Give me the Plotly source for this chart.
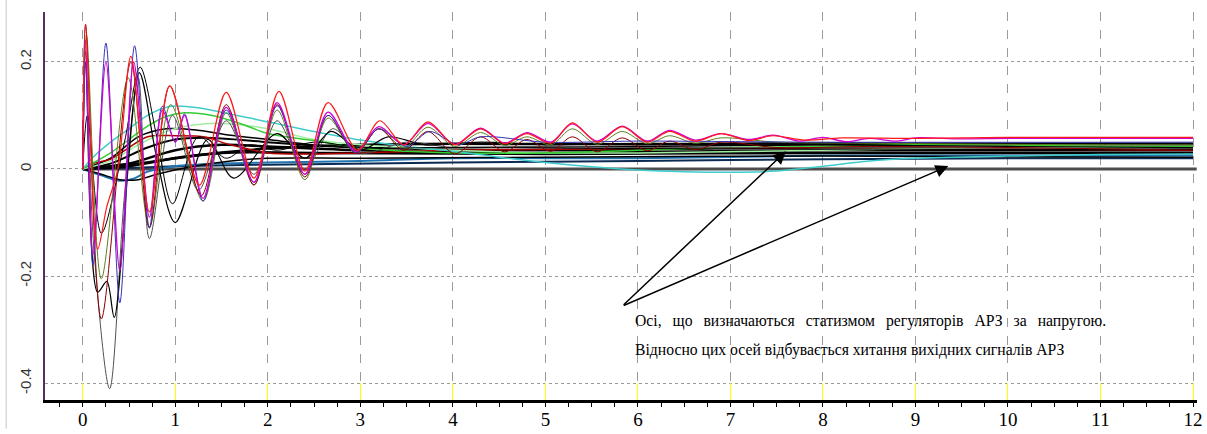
import plotly.graph_objects as go

# ---------------- data ----------------
zero_t = [0, 12.04]
zero_v = [0, 0]

navy_t = [0, 0.5, 1.0, 2.0, 4.0, 6.0, 8.0, 10.0, 12.0]
navy_v = [0, 0.002, 0.005, 0.008, 0.012, 0.015, 0.018, 0.02, 0.02]

steel_t = [0, 0.2, 0.4, 0.55, 0.7, 1.0, 1.5, 2.0, 3.0, 4.0, 6.0, 8.0, 10.0, 12.0]
steel_v = [0, -0.012, -0.022, -0.018, -0.005, 0.005, 0.01, 0.012, 0.015, 0.02, 0.02, 0.025, 0.025, 0.025]

bdip_t = [0, 0.2, 0.4, 0.6, 0.8, 1.2, 1.6, 2.0, 3.0, 5.0, 8.0, 12.0]
bdip_v = [0, -0.01, -0.02, -0.02, -0.01, 0.005, 0.015, 0.02, 0.02, 0.022, 0.024, 0.022]

bs1_t = [0, 0.3, 0.6, 0.9, 1.2, 1.6, 2.0, 2.5, 3.0, 4.0, 6.0, 8.0, 12.0]
bs1_v = [0, 0.02, 0.06, 0.075, 0.073, 0.063, 0.055, 0.045, 0.04, 0.04, 0.042, 0.045, 0.045]

bs2_t = [0, 0.3, 0.7, 1.0, 1.4, 2.0, 3.0, 5.0, 8.0, 12.0]
bs2_v = [0, 0.01, 0.04, 0.055, 0.058, 0.05, 0.04, 0.035, 0.04, 0.04]

bs3_t = [0, 0.5, 1.0, 1.5, 2.0, 3.0, 5.0, 8.0, 12.0]
bs3_v = [0, 0.01, 0.035, 0.045, 0.042, 0.035, 0.03, 0.035, 0.035]

bs4_t = [0, 0.5, 1.0, 1.5, 2.5, 5.0, 8.0, 12.0]
bs4_v = [0, 0.005, 0.02, 0.03, 0.03, 0.028, 0.03, 0.03]

bs5_t = [0, 0.6, 1.2, 2.0, 3.0, 4.0, 6.0, 8.0, 10.0, 12.0]
bs5_v = [0, 0.01, 0.025, 0.038, 0.045, 0.047, 0.046, 0.048, 0.047, 0.047]

drs_t = [0, 0.1, 0.3, 0.5, 0.7, 1.0, 1.3, 1.6, 2.0, 2.5, 3.0, 4.0, 6.0, 8.0, 12.0]
drs_v = [0, 0.01, 0.018, 0.04, 0.06, 0.062, 0.06, 0.045, 0.03, 0.028, 0.03, 0.035, 0.038, 0.04, 0.035]

lgreen_t = [0, 0.3, 0.6, 0.9, 1.2, 1.5, 2.0, 2.5, 3.0, 4.0, 5.0, 6.0, 8.0, 10.0, 12.0]
lgreen_v = [0, 0.015, 0.045, 0.07, 0.082, 0.085, 0.075, 0.055, 0.045, 0.035, 0.03, 0.03, 0.035, 0.04, 0.04]

green_t = [0, 0.1, 0.3, 0.5, 0.7, 0.9, 1.1, 1.4, 1.7, 2.0, 2.5, 3.0, 3.5, 4.0, 5.0, 6.0, 7.0, 8.0, 9.0, 10.0, 11.0, 12.0]
green_v = [0, 0.01, 0.03, 0.055, 0.08, 0.098, 0.105, 0.1, 0.085, 0.066, 0.053, 0.039, 0.033, 0.03, 0.03, 0.035, 0.04, 0.042, 0.045, 0.045, 0.042, 0.042]

cyan_t = [0, 0.1, 0.3, 0.5, 0.7, 0.95, 1.2, 1.5, 2.0, 2.5, 3.0, 3.5, 4.0, 4.5, 5.0, 5.5, 6.0, 6.5, 7.0, 7.5, 8.0, 8.5, 9.0, 10.0, 11.0, 12.0]
cyan_v = [0, 0.02, 0.05, 0.075, 0.1, 0.117, 0.115, 0.106, 0.088, 0.07, 0.054, 0.042, 0.033, 0.022, 0.012, 0.004, -0.002, -0.005, -0.006, -0.004, 0.005, 0.015, 0.02, 0.024, 0.027, 0.028]

gray_t = [0, 0.03, 0.12, 0.29, 0.45, 0.6, 0.72, 0.97, 1.25, 1.55, 1.85, 2.1, 2.4, 2.7, 3.0, 3.5, 4.0, 5.0, 6.0, 8.0, 12.0]
gray_v = [0, 0.2, -0.15, -0.41, -0.05, 0.17, -0.13, 0.1, -0.04, 0.09, -0.01, 0.09, 0.0, 0.075, 0.03, 0.05, 0.04, 0.042, 0.04, 0.04, 0.038]

bo2_t = [0, 0.05, 0.2, 0.45, 0.62, 0.8, 0.97, 1.25, 1.55, 1.8, 2.1, 2.5, 3.0, 4.0, 6.0, 12.0]
bo2_v = [0, 0.1, -0.12, 0.05, 0.19, 0.06, -0.065, 0.06, 0.02, 0.045, 0.035, 0.05, 0.04, 0.04, 0.038, 0.036]

bo1_t = [0, 0.03, 0.16, 0.26, 0.34, 0.61, 0.8, 1.0, 1.35, 1.63, 2.1, 2.4, 2.68, 3.0, 3.3, 3.7, 4.3, 5.0, 6.0, 8.0, 10.0, 12.0]
bo1_v = [0, 0.22, -0.23, -0.21, -0.277, 0.18, 0.02, -0.1, 0.055, -0.017, 0.066, 0.02, 0.07, 0.035, 0.06, 0.045, 0.05, 0.045, 0.048, 0.045, 0.042, 0.04]

olive_t = [0, 0.04, 0.2, 0.49, 0.72, 0.95, 1.3, 1.55, 1.85, 2.1, 2.4, 2.65, 2.95, 3.2, 3.47, 3.73, 4.02, 4.3, 4.56, 4.8, 5.06, 5.29, 5.56, 5.83, 6.1, 6.34, 6.62, 6.9, 7.5, 8.5, 10.0, 12.0]
olive_v = [0, 0.25, -0.205, 0.17, -0.108, 0.12, -0.06, 0.105, -0.03, 0.11, -0.02, 0.095, 0.03, 0.075, 0.04, 0.078, 0.042, 0.068, 0.044, 0.06, 0.045, 0.075, 0.046, 0.07, 0.047, 0.062, 0.048, 0.058, 0.05, 0.048, 0.046, 0.045]

dred_t = [0, 0.03, 0.2, 0.52, 0.72, 0.94, 1.28, 1.55, 1.85, 2.1, 2.4, 2.65, 2.95, 3.2, 3.47, 3.73, 4.02, 4.3, 4.56, 4.8, 5.06, 5.29, 5.56, 5.83, 6.1, 6.34, 6.62, 6.9, 7.5, 8.5, 10.0, 12.0]
dred_v = [0, 0.27, -0.28, 0.2, -0.11, 0.155, -0.05, 0.12, -0.03, 0.12, -0.015, 0.1, 0.03, 0.075, 0.035, 0.07, 0.028, 0.06, 0.032, 0.055, 0.033, 0.06, 0.032, 0.058, 0.034, 0.052, 0.036, 0.05, 0.04, 0.042, 0.04, 0.035]

blue_t = [0, 0.03, 0.11, 0.25, 0.4, 0.56, 0.72, 0.86, 1.0, 1.1, 1.3, 1.55, 1.85, 2.1, 2.4, 2.65, 2.95, 3.2, 3.5, 3.75, 4.05, 4.3, 5.0, 6.0, 8.0, 12.0]
blue_v = [0, 0.2, -0.18, 0.235, -0.25, 0.23, -0.11, 0.117, 0.05, 0.103, -0.06, 0.11, -0.025, 0.118, -0.01, 0.1, 0.03, 0.075, 0.042, 0.07, 0.045, 0.06, 0.05, 0.052, 0.05, 0.05]

mag_t = [0, 0.03, 0.11, 0.25, 0.4, 0.55, 0.72, 0.86, 1.0, 1.1, 1.3, 1.55, 1.85, 2.1, 2.4, 2.65, 2.95, 3.2, 3.47, 3.73, 4.02, 4.3, 4.56, 4.8, 5.06, 5.29, 5.56, 5.83, 6.1, 6.34, 6.62, 6.9, 7.2, 7.46, 7.75, 8.0, 8.25, 8.5, 8.8, 9.0, 9.5, 10.0, 11.0, 12.0]
mag_v = [0, 0.24, -0.16, 0.2, -0.19, 0.2, -0.09, 0.11, 0.05, 0.1, -0.055, 0.115, -0.025, 0.124, -0.01, 0.106, 0.033, 0.079, 0.045, 0.085, 0.046, 0.076, 0.048, 0.068, 0.05, 0.084, 0.052, 0.08, 0.052, 0.072, 0.054, 0.066, 0.055, 0.063, 0.052, 0.059, 0.051, 0.057, 0.052, 0.058, 0.056, 0.057, 0.057, 0.057]

red_t = [0, 0.03, 0.16, 0.26, 0.38, 0.52, 0.72, 0.94, 1.26, 1.55, 1.85, 2.12, 2.4, 2.65, 2.97, 3.21, 3.47, 3.73, 4.02, 4.3, 4.56, 4.8, 5.06, 5.29, 5.56, 5.83, 6.1, 6.34, 6.62, 6.9, 7.2, 7.46, 7.8, 8.2, 9.0, 10.0, 11.0, 12.0]
red_v = [0, 0.27, -0.15, -0.07, 0.0, 0.21, -0.08, 0.155, -0.03, 0.143, -0.017, 0.145, -0.004, 0.124, 0.035, 0.09, 0.045, 0.088, 0.045, 0.075, 0.047, 0.066, 0.048, 0.086, 0.05, 0.079, 0.05, 0.07, 0.052, 0.066, 0.053, 0.062, 0.054, 0.058, 0.057, 0.059, 0.059, 0.059]

x_ticks = [0, 1, 2, 3, 4, 5, 6, 7, 8, 9, 10, 11, 12]
y_ticks = [-0.4, -0.2, 0, 0.2]
y_labels = ["-0.4", "-0.2", "0", "0.2"]

gap = "\u00a0\u00a0\u2009"
note_line1 = gap.join(["Осі,", "що", "визначаються", "статизмом", "регуляторів", "АРЗ", "за", "напругою."])
note_line2 = "Відносно цих осей відбувається хитання вихідних сигналів АРЗ"

# ---------------- figure ----------------
fig = go.Figure()

series = [
    (zero_t, zero_v, "#4d4d4d", 3.0),
    (navy_t, navy_v, "#0b2b55", 2.0),
    (steel_t, steel_v, "#1f74b0", 2.0),
    (bdip_t, bdip_v, "#000000", 1.5),
    (bs4_t, bs4_v, "#000000", 2.5),
    (bs3_t, bs3_v, "#000000", 2.5),
    (bs5_t, bs5_v, "#000000", 2.5),
    (bs2_t, bs2_v, "#000000", 2.0),
    (bs1_t, bs1_v, "#000000", 1.5),
    (drs_t, drs_v, "#b00000", 1.5),
    (lgreen_t, lgreen_v, "#a0eca0", 1.5),
    (green_t, green_v, "#33cc33", 1.5),
    (cyan_t, cyan_v, "#40cccc", 1.5),
    (gray_t, gray_v, "#505050", 1.0),
    (bo2_t, bo2_v, "#000000", 1.0),
    (bo1_t, bo1_v, "#000000", 1.2),
    (olive_t, olive_v, "#5f7f1f", 1.0),
    (dred_t, dred_v, "#8b0000", 1.0),
    (blue_t, blue_v, "#3434b8", 1.0),
    (mag_t, mag_v, "#d000d0", 1.3),
    (red_t, red_v, "#ff1a1a", 1.2),
]
for tt, vv, col, w in series:
    fig.add_trace(go.Scatter(
        x=tt, y=vv, mode="lines",
        line=dict(color=col, width=w, shape="spline", smoothing=0.9),
        showlegend=False, hoverinfo="skip",
    ))

fig.update_layout(
    width=1207, height=434,
    margin=dict(l=45, r=4, t=12, b=29),
    paper_bgcolor="white", plot_bgcolor="white",
    showlegend=False,
)

fig.update_xaxes(
    range=[-0.4086, 12.043],
    tickvals=x_ticks,
    ticktext=[str(v) for v in x_ticks],
    ticks="inside", ticklen=17, tickcolor="#ffff00", tickwidth=1,
    ticklabeloverflow="allow",
    showgrid=True, gridcolor="#9a9a9a", griddash="dash", gridwidth=1,
    zeroline=False,
    showline=True, linecolor="#000000", linewidth=3,
    tickfont=dict(family="Liberation Sans Narrow", size=19, color="#000"),
    minor=dict(dtick=0.25, tick0=0, ticks="outside", ticklen=4, tickcolor="#000", tickwidth=1, showgrid=False),
)

fig.update_yaxes(
    range=[-0.4313, 0.293],
    tickvals=y_ticks, ticktext=y_labels,
    tickangle=-90,
    ticks="", ticklabelstandoff=6,
    showgrid=True, gridcolor="#9a9a9a", griddash="dot", gridwidth=1,
    zeroline=False,
    showline=True, linecolor="#5a2a64", linewidth=2,
    tickfont=dict(family="Liberation Sans", size=15, color="#333"),
)

# window border line at the far left
fig.add_shape(type="line", xref="paper", yref="paper",
              x0=-0.0337, x1=-0.0337, y0=-0.074, y1=1.031,
              line=dict(color="#c8c8c8", width=1))

# arrows
for hx, hy in [(7.60, 0.033), (9.355, 0.0055)]:
    fig.add_annotation(x=hx, y=hy, ax=5.83, ay=-0.256, xref="x", yref="y",
                       axref="x", ayref="y", text="", showarrow=True,
                       arrowhead=2, arrowsize=1.7, arrowwidth=1.5, arrowcolor="#000")

fig.add_annotation(x=5.946, y=-0.283, xref="x", yref="y", text=note_line1,
                   showarrow=False, xanchor="left", yanchor="middle",
                   font=dict(family="Liberation Serif, DejaVu Serif, serif", size=15.7, color="#000"))
fig.add_annotation(x=5.946, y=-0.338, xref="x", yref="y", text=note_line2,
                   showarrow=False, xanchor="left", yanchor="middle",
                   font=dict(family="Liberation Serif, DejaVu Serif, serif", size=15.7, color="#000"))

fig.write_html("out.html")
